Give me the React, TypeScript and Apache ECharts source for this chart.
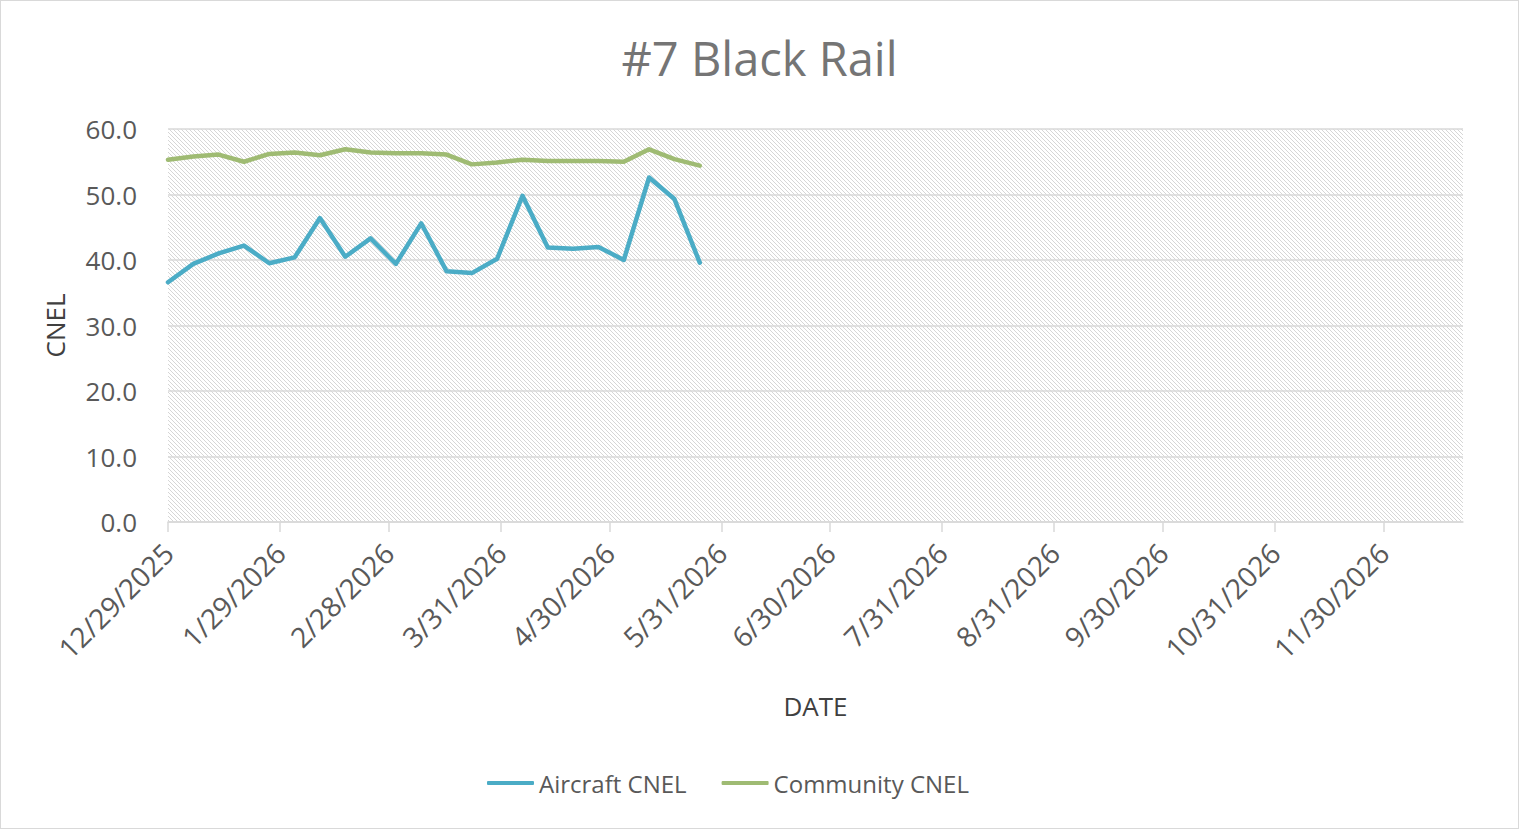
import React, { useEffect, useRef } from "react";
import * as echarts from "echarts";

const weekDates = [
  "12/29/2025", "1/5/2026", "1/12/2026", "1/19/2026", "1/26/2026", "2/2/2026",
  "2/9/2026", "2/16/2026", "2/23/2026", "3/2/2026", "3/9/2026", "3/16/2026",
  "3/23/2026", "3/30/2026", "4/6/2026", "4/13/2026", "4/20/2026", "4/27/2026",
  "5/4/2026", "5/11/2026", "5/18/2026", "5/25/2026",
];
const aircraftCNEL = [
  36.6, 39.4, 41.0, 42.2, 39.5, 40.4, 46.4, 40.5, 43.3, 39.4, 45.6,
  38.3, 38.0, 40.2, 49.8, 41.9, 41.7, 42.0, 40.0, 52.6, 49.3, 39.6,
];
const communityCNEL = [
  55.3, 55.8, 56.1, 55.0, 56.2, 56.4, 56.0, 56.9, 56.4, 56.3, 56.3,
  56.1, 54.6, 54.9, 55.3, 55.1, 55.1, 55.1, 55.0, 56.9, 55.4, 54.4,
];
const tickDates = [
  "12/29/2025", "1/29/2026", "2/28/2026", "3/31/2026", "4/30/2026", "5/31/2026",
  "6/30/2026", "7/31/2026", "8/31/2026", "9/30/2026", "10/31/2026", "11/30/2026",
];
const axisStart = [2025, 12, 29];
const axisEnd = [2026, 12, 22];
const yMin = 0;
const yMax = 60;
const yInterval = 10;

function buildDays(): string[] {
  const out: string[] = [];
  const s = Date.UTC(axisStart[0], axisStart[1] - 1, axisStart[2]);
  const e = Date.UTC(axisEnd[0], axisEnd[1] - 1, axisEnd[2]);
  for (let t = s; t <= e; t += 86400000) {
    const d = new Date(t);
    out.push(`${d.getUTCMonth() + 1}/${d.getUTCDate()}/${d.getUTCFullYear()}`);
  }
  return out;
}

function makePattern(): HTMLCanvasElement {
  const c = document.createElement("canvas");
  c.width = 4;
  c.height = 4;
  const ctx = c.getContext("2d")!;
  ctx.fillStyle = "#ffffff";
  ctx.fillRect(0, 0, 4, 4);
  ctx.fillStyle = "#d6d6d6";
  for (let i = 0; i < 4; i++) ctx.fillRect(i, i, 1, 1);
  return c;
}

export default function App() {
  const ref = useRef<HTMLDivElement>(null);
  useEffect(() => {
    document.body.style.margin = "0";
    if (!ref.current) return;
    const chart = echarts.init(ref.current, null, { renderer: "svg" });
    const days = buildDays();
    const tickSet = new Set(tickDates);
    const font = "'Open Sans', sans-serif";
    chart.setOption({
      animation: false,
      backgroundColor: "#ffffff",
      title: {
        text: "#7 Black Rail",
        left: "center",
        top: 28,
        textStyle: { fontFamily: font, fontSize: 47, fontWeight: "normal", color: "#757575" },
      },
      legend: {
        left: 481,
        top: 765,
        icon: "roundRect",
        itemWidth: 47,
        itemHeight: 4,
        itemGap: 35,
        textStyle: { fontFamily: font, fontSize: 24, color: "#595959" },
        data: ["Aircraft CNEL", "Community CNEL"],
      },
      grid: {
        left: 167,
        top: 128,
        width: 1295,
        height: 393,
        show: true,
        borderWidth: 0,
        backgroundColor: { image: makePattern(), repeat: "repeat", imageWidth: 4, imageHeight: 4 },
      },
      xAxis: {
        type: "category",
        data: days,
        boundaryGap: false,
        name: "DATE",
        nameLocation: "middle",
        nameGap: 171,
        nameTextStyle: { fontFamily: font, fontSize: 26, color: "#404040" },
        axisLine: { lineStyle: { color: "#d9d9d9", width: 1.5 } },
        axisTick: {
          interval: (_i: number, v: string) => tickSet.has(v),
          length: 10,
          lineStyle: { color: "#d9d9d9", width: 1.5 },
        },
        axisLabel: {
          interval: (_i: number, v: string) => tickSet.has(v),
          rotate: 45,
          margin: 26,
          fontFamily: font,
          fontSize: 28,
          color: "#595959",
        },
        splitLine: { show: false },
      },
      yAxis: {
        type: "value",
        min: yMin,
        max: yMax,
        interval: yInterval,
        name: "CNEL",
        nameLocation: "middle",
        nameGap: 100,
        nameTextStyle: { fontFamily: font, fontSize: 26, color: "#404040" },
        axisLine: { show: false },
        axisTick: { show: false },
        axisLabel: {
          margin: 31,
          fontFamily: font,
          fontSize: 26,
          color: "#595959",
          formatter: (v: number) => v.toFixed(1),
        },
        splitLine: { lineStyle: { color: "#d9d9d9", width: 1.5 } },
      },
      series: [
        {
          name: "Aircraft CNEL",
          type: "line",
          data: weekDates.map((d, i) => [d, aircraftCNEL[i]]),
          showSymbol: false,
          symbol: "none",
          lineStyle: { color: "#4bacc6", width: 4.5, join: "round", cap: "round" },
          itemStyle: { color: "#4bacc6" },
        },
        {
          name: "Community CNEL",
          type: "line",
          data: weekDates.map((d, i) => [d, communityCNEL[i]]),
          showSymbol: false,
          symbol: "none",
          lineStyle: { color: "#9fbb73", width: 4.5, join: "round", cap: "round" },
          itemStyle: { color: "#9fbb73" },
        },
      ],
    });
    return () => chart.dispose();
  }, []);
  return (
    <div
      style={{
        width: 1519,
        height: 829,
        boxSizing: "border-box",
        border: "1px solid #d9d9d9",
        background: "#fff",
      }}
    >
      <div ref={ref} style={{ width: 1517, height: 827 }} />
    </div>
  );
}
